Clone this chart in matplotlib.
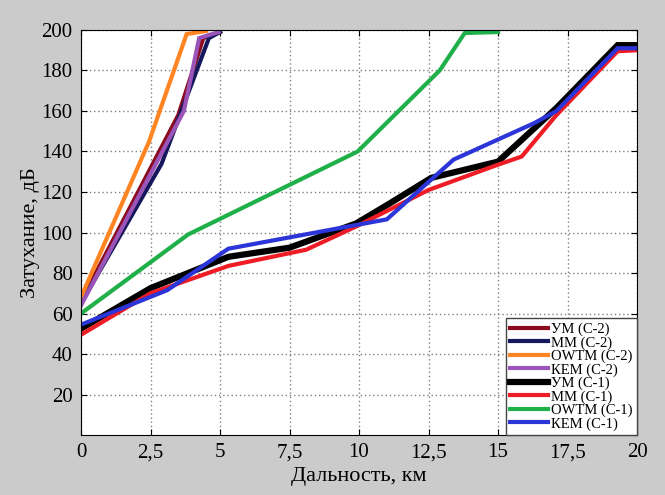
"""
Затухание в зависимости от дальности для моделей C-1 и C-2
"""
import matplotlib
matplotlib.use('Agg')
import matplotlib.pyplot as plt

plt.rcParams['font.family'] = ['Liberation Serif', 'DejaVu Serif']

# C-2
um_c2_x = [0, 3.5, 4.4, 5.0]
um_c2_y = [66, 158, 196, 199]
mm_c2_x = [0, 2.9, 4.6, 5.0]
mm_c2_y = [65, 134, 196, 199]
owtm_c2_x = [0, 2.45, 3.8, 4.5]
owtm_c2_y = [68, 145, 198, 199.5]
kem_c2_x = [0, 3.7, 4.25, 4.95]
kem_c2_y = [64, 160, 196, 199]

# C-1
um_c1_x = [0, 2.5, 5.3, 7.5, 9.9, 11.0, 12.6, 15.0, 17.1, 19.3, 20.0]
um_c1_y = [52.5, 72.5, 88, 92.5, 104.5, 113.5, 127, 135, 161.5, 192.5, 192.5]
mm_c1_x = [0, 2.5, 5.3, 8.1, 9.9, 12.5, 15.0, 15.85, 17.1, 19.3, 20.0]
mm_c1_y = [49.5, 70, 83.5, 91.5, 103, 121, 133.5, 137.5, 158, 189.5, 190]
owtm_c1_x = [0, 3.85, 9.95, 12.9, 13.8, 15.0]
owtm_c1_y = [60, 99, 140, 180, 198.5, 199]
kem_c1_x = [0, 3.1, 5.3, 11.0, 13.4, 16.3, 17.1, 19.3, 20.0]
kem_c1_y = [54.5, 71.5, 92, 106.5, 136, 154, 160, 191, 191]

x_ticks = [0, 2.5, 5, 7.5, 10, 12.5, 15, 17.5, 20]
x_labels = ['0', '2,5', '5', '7,5', '10', '12,5', '15', '17,5', '20']
y_ticks = [20, 40, 60, 80, 100, 120, 140, 160, 180, 200]

fig = plt.figure(figsize=(6.65, 4.95), dpi=100, facecolor='#cbcbcb')
ax = fig.add_axes([0.1218, 0.1212, 0.8362, 0.8182])

series = [
    (um_c2_x, um_c2_y, '#8a0a1e', 3, 'УМ (С-2)'),
    (mm_c2_x, mm_c2_y, '#16185e', 3, 'ММ (С-2)'),
    (owtm_c2_x, owtm_c2_y, '#ff8422', 3, 'OWTM (С-2)'),
    (kem_c2_x, kem_c2_y, '#9b55b8', 3, 'КЕМ (С-2)'),
    (um_c1_x, um_c1_y, 'black', 4.5, 'УМ (С-1)'),
    (mm_c1_x, mm_c1_y, '#ee1c24', 3, 'ММ (С-1)'),
    (owtm_c1_x, owtm_c1_y, '#1fb04a', 3, 'OWTM (С-1)'),
    (kem_c1_x, kem_c1_y, '#2b35d8', 3, 'КЕМ (С-1)'),
]
for x, y, c, lw, lab in series:
    ax.plot(x, y, color=c, lw=lw, label=lab, solid_joinstyle='miter')

ax.set_xlim(0, 20)
ax.set_ylim(0, 200)
ax.set_xticks(x_ticks)
ax.set_xticklabels(x_labels)
ax.set_yticks(y_ticks)
ax.tick_params(labelsize=15, direction='in', top=True, right=True, length=4,
               pad=6)
ax.grid(True, color='#808080', linestyle=(0, (1, 2)), linewidth=1)
ax.set_xlabel('Дальность, км', fontsize=16, labelpad=3)
ax.set_ylabel('Затухание, дБ', fontsize=16, labelpad=1)

leg = ax.legend(loc='lower right', fontsize=10.5, labelspacing=0.0,
                handlelength=2.6, handletextpad=0.2, borderpad=0.3,
                borderaxespad=0, fancybox=False, framealpha=1)
leg.get_frame().set_edgecolor('#444444')

plt.savefig('out.png', dpi=100, facecolor=fig.get_facecolor())
